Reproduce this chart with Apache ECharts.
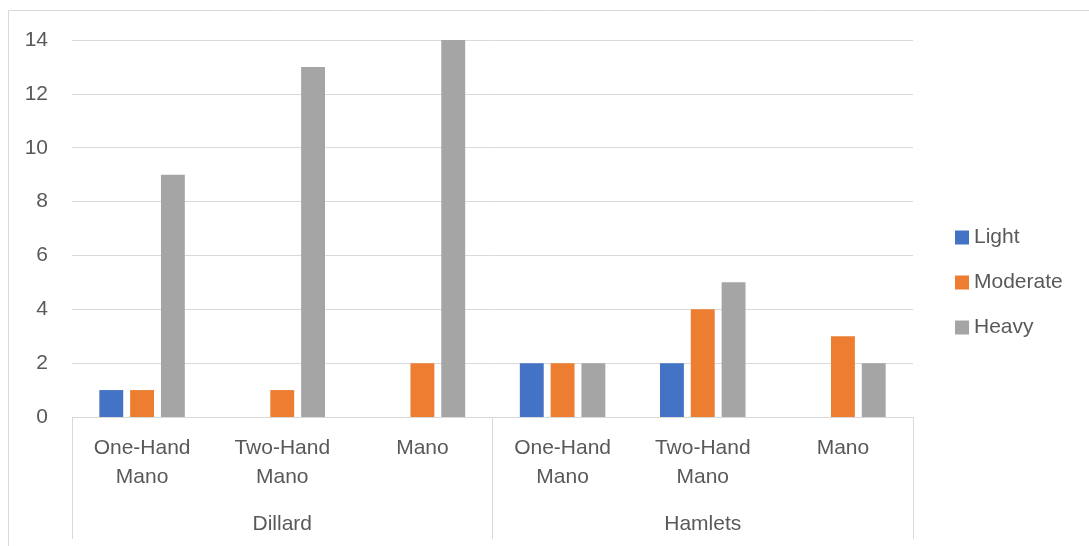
<!DOCTYPE html>
<html>
<head>
<meta charset="utf-8">
<script src="https://cdn.jsdelivr.net/npm/echarts@6/dist/echarts.min.js"></script>
<style>
html,body{margin:0;padding:0;background:#fff;overflow:hidden;}
#chart{width:1089px;height:546px;}
</style>
</head>
<body>
<div id="chart"></div>
<script>
// Data
const subCategories = ['One-Hand\nMano', 'Two-Hand\nMano', 'Mano', 'One-Hand\nMano', 'Two-Hand\nMano', 'Mano'];
const groups = ['Dillard', 'Hamlets'];
const seriesNames = ['Light', 'Moderate', 'Heavy'];
const light = [1, 0, 0, 2, 2, 0];
const moderate = [1, 1, 2, 2, 4, 3];
const heavy = [9, 13, 14, 2, 5, 2];
const yTicks = { min: 0, max: 14, interval: 2 };

const colors = ['#4472C4', '#ED7D31', '#A5A5A5'];
const font = 'Liberation Sans, Arial, sans-serif';
const textColor = '#595959';
const lineColor = '#D9D9D9';

const chart = echarts.init(document.getElementById('chart'));
const values = [light, moderate, heavy];

chart.setOption({
  animation: false,
  color: colors,
  textStyle: { fontFamily: font },
  graphic: [{
    type: 'rect',
    shape: { x: 8.5, y: 10.5, width: 1200, height: 700 },
    style: { fill: 'none', stroke: lineColor, lineWidth: 1 },
    silent: true, z: -10
  }],
  grid: { left: 72, right: 176, top: 40, bottom: 129, containLabel: false },
  legend: {
    orient: 'vertical',
    left: 955, top: 227,
    itemWidth: 14, itemHeight: 14, itemGap: 24,
    padding: 0,
    icon: 'rect',
    data: seriesNames,
    textStyle: { fontSize: 21, color: textColor, fontFamily: font }
  },
  xAxis: [{
    type: 'category',
    data: subCategories,
    position: 'bottom',
    axisLine: { show: true, lineStyle: { color: lineColor, width: 1 } },
    axisTick: { show: false },
    axisLabel: { interval: 0, fontSize: 21, lineHeight: 29, margin: 17, color: textColor, fontFamily: font }
  }, {
    type: 'category',
    data: groups,
    position: 'bottom',
    axisLine: { show: false },
    axisTick: { show: true, length: 122, lineStyle: { color: lineColor, width: 1 } },
    axisLabel: { interval: 0, fontSize: 21, lineHeight: 29, margin: 93, color: textColor, fontFamily: font }
  }],
  yAxis: {
    type: 'value',
    min: yTicks.min, max: yTicks.max, interval: yTicks.interval,
    axisLine: { show: false },
    axisTick: { show: false },
    splitLine: { lineStyle: { color: lineColor, width: 1 } },
    axisLabel: { fontSize: 21, margin: 24, color: textColor, fontFamily: font }
  },
  series: seriesNames.map((name, i) => ({
    name: name,
    type: 'bar',
    xAxisIndex: 0,
    data: values[i],
    barCategoryGap: '39%',
    barGap: '29%',
    itemStyle: { color: colors[i] }
  }))
});
</script>
</body>
</html>
